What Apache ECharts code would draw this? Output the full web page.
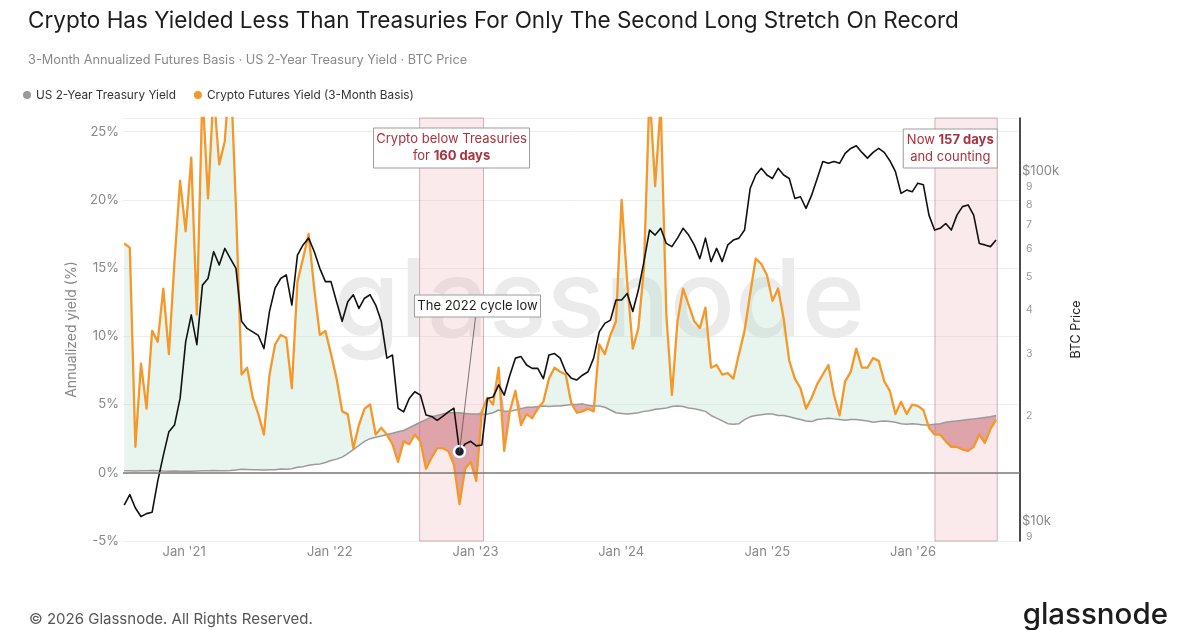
<!DOCTYPE html>
<html>
<head>
<meta charset="utf-8">
<script src="https://cdn.jsdelivr.net/npm/echarts@6/dist/echarts.min.js"></script>
<style>
  html, body { margin: 0; background: #fff; }
  #main { width: 1200px; height: 630px; }
</style>
</head>
<body>
<div id="main"></div>
<script>
// two-week samples, first one early Aug 2020
const startDate = '2020-08-04';
const stepDays = 14;

// US 2-year treasury yield, %
const treasuryYield = [
  0.15, 0.14, 0.13, 0.14, 0.15, 0.16, 0.15, 0.13, 0.12, 0.13, 0.12, 0.12, 0.11, 0.13, 0.14,
  0.15, 0.16, 0.15, 0.15, 0.16, 0.20, 0.25, 0.24, 0.22, 0.22, 0.21, 0.22, 0.23, 0.27,
  0.25, 0.3, 0.4, 0.45, 0.55, 0.6, 0.65, 0.75, 0.9, 1.0, 1.15,
  1.4, 1.7, 2.0, 2.3, 2.5, 2.6, 2.7, 2.8, 2.9,
  3.0, 3.1, 3.3, 3.5, 3.7, 3.9, 4.1, 4.2, 4.3, 4.4,
  4.4, 4.4, 4.35, 4.3, 4.3, 4.25, 4.3, 4.4, 4.6, 4.5,
  4.5, 4.6, 4.7, 4.8, 4.8, 4.85, 4.9, 4.85, 4.9, 4.9,
  4.95, 5.0, 5.0, 5.05, 4.95, 4.9, 4.9, 4.8, 4.6, 4.4,
  4.35, 4.3, 4.35, 4.4, 4.5, 4.55, 4.65, 4.7, 4.75, 4.85,
  4.9, 4.85, 4.75, 4.7, 4.6, 4.5, 4.2, 4.0, 3.8, 3.6,
  3.55, 3.6, 3.9, 4.1, 4.2, 4.25, 4.3, 4.3, 4.2, 4.2,
  4.1, 4.0, 3.9, 3.8, 3.75, 3.9, 3.95, 4.0, 3.95, 3.9,
  3.85, 3.9, 3.9, 3.85, 3.8, 3.7, 3.75, 3.8, 3.75, 3.7,
  3.6, 3.55, 3.6, 3.55, 3.5, 3.5, 3.55, 3.6, 3.7, 3.75,
  3.8, 3.85, 3.9, 3.95, 4.0, 4.05, 4.1, 4.2
];

// 3-month annualized futures basis, %
const cryptoYield = [
  16.8, 16.5, 1.9, 8.0, 4.7, 10.4, 9.6, 13.5, 8.7, 15.5,
  21.4, 17.7, 23.1, 11.6, 28, 20.1, 28, 22.6, 24.3, 30,
  19.4, 7.2, 7.7, 5.5, 4.3, 2.8, 7.2, 9.4, 10.1, 9.9,
  6.2, 14.0, 15.7, 17.5, 13.5, 10.1, 10.4, 8.7, 6.9, 4.5,
  4.3, 1.8, 3.5, 4.7, 5.0, 2.8, 3.3, 2.8, 2.1, 0.8,
  2.3, 2.1, 2.8, 2.3, 0.3, 1.1, 1.8, 1.8, 1.6, 0.6,
  -2.3, 0.3, 0.8, -0.6, 4.5, 5.5, 5.0, 7.7, 1.6, 4.5,
  6.0, 3.5, 4.3, 4.0, 4.7, 5.2, 6.9, 7.7, 7.4,
  7.2, 5.1, 4.4, 4.5, 4.7, 4.5, 9.4, 8.7, 10.1, 11.1,
  20.0, 14.0, 9.1, 10.6, 15.0, 28, 21, 27, 11.6, 5.7,
  11.1, 13.5, 12.3, 11.1, 10.6, 12.1, 7.7, 7.9, 7.2, 7.3,
  6.9, 8.7, 10.4, 13.1, 15.7, 15.3, 14.5, 12.6, 13.5, 11.3,
  8.2, 6.9, 6.2, 4.7, 5.5, 6.5, 7.2, 7.9, 5.7, 4.2,
  6.7, 7.4, 9.1, 7.7, 7.7, 8.4, 8.2, 6.7, 6.0, 4.3,
  5.2, 4.3, 5.0, 4.9, 4.6, 3.3, 2.8, 2.8, 2.3, 1.9,
  1.9, 1.7, 1.6, 1.9, 2.8, 2.2, 3.2, 3.9
];

// BTC price, $k
const btcPrice = [
  11.1, 11.9, 10.9, 10.3, 10.5, 10.6, 13.0, 15.4, 18.0, 18.8,
  22.4, 32.5, 38.8, 31.9, 47.2, 49.3, 58.9, 53.9, 60.1, 56.2,
  52.7, 37.2, 35.5, 34.7, 33.9, 31.1, 39.7, 46.3, 49.3, 50.5,
  41.4, 57.5, 61.5, 64.3, 58.9, 52.7, 48.3, 48.3, 42.3, 37.2,
  42.3, 44.3, 40.5, 43.3, 44.3, 41.4, 37.2, 29.2, 29.8, 21.0,
  20.5, 22.4, 23.4, 22.9, 20.1, 19.9, 19.4, 19.9, 20.5, 21.0,
  15.8, 16.6, 16.9, 16.4, 16.5, 22.4, 22.6, 24.5, 22.9, 26.1,
  29.2, 29.5, 27.9, 27.3, 27.3, 25.5, 29.8, 30.1, 29.2,
  26.7, 25.6, 25.3, 26.1, 26.7, 29.2, 34.7, 36.7, 37.5, 42.8,
  42.8, 44.7, 39.7, 45.7, 55.1, 67.8, 65.6, 68.6, 62.1, 60.8,
  64.3, 68.6, 65.6, 61.5, 56.2, 64.3, 55.1, 60.1, 55.1, 61.5,
  63.5, 64.3, 67.8, 89.1, 97.4, 101.8, 97.4, 95.2, 101.8, 97.4,
  95.2, 83.5, 84.4, 78.2, 85.3, 95.2, 106.4, 105.2, 106.4, 105.2,
  112.3, 116.0, 118.0, 113.0, 108.8, 113.0, 116.0, 113.0, 107.0, 99.6,
  86.3, 88.2, 87.2, 92.3, 91.3, 74.8, 67.8, 68.6, 70.8, 67.8,
  74.8, 79.1, 80.0, 74.8, 62.1, 61.5, 60.8, 63.5
];

const btcTicks = [9, 10, 20, 30, 40, 50, 60, 70, 80, 90, 100];
const belowStretches = [['2022-08-14', '2023-01-21'], ['2026-02-25', '2026-07-31']];
const cycleLowIdx = 60;

const DAY = 86400000;
const t0 = Date.parse(startDate);
const dates = btcPrice.map((_, i) => t0 + i * stepDays * DAY);

const pair = arr => arr.map((v, i) => [dates[i], v]);
const bandBase = cryptoYield.map((c, i) => Math.min(c, treasuryYield[i]));
const bandAbove = cryptoYield.map((c, i) => Math.max(c - treasuryYield[i], 0));
const bandBelow = cryptoYield.map((c, i) => Math.max(treasuryYield[i] - c, 0));

const FONT = 'Inter';
const chart = echarts.init(document.getElementById('main'));

const option = {
  animation: false,
  backgroundColor: '#fff',
  textStyle: { fontFamily: FONT },
  title: [
    { text: 'Crypto Has Yielded Less Than Treasuries For Only The Second Long Stretch On Record',
      left: 23, top: 5, textStyle: { fontFamily: FONT, fontSize: 22.5, fontWeight: 'normal', color: '#1d1d1d' } },
    { text: '3-Month Annualized Futures Basis \u00b7 US 2-Year Treasury Yield \u00b7 BTC Price',
      left: 23, top: 49, textStyle: { fontFamily: FONT, fontSize: 12.75, fontWeight: 'normal', color: '#8a8a8a' } },
    { text: '\u00a9 2026 Glassnode. All Rights Reserved.',
      left: 24, top: 607, textStyle: { fontFamily: FONT, fontSize: 15, fontWeight: 'normal', color: '#555' } }
  ],
  legend: {
    left: 18, top: 84, icon: 'circle', itemWidth: 8, itemHeight: 8, itemGap: 18,
    data: ['US 2-Year Treasury Yield', 'Crypto Futures Yield (3-Month Basis)'],
    textStyle: { fontFamily: FONT, fontSize: 11.8, color: '#333' }
  },
  grid: { left: 123, right: 180, top: 118, bottom: 89 },
  xAxis: {
    type: 'time',
    min: Date.parse('2020-08-01'),
    max: Date.parse('2026-09-26'),
    minInterval: 365 * DAY,
    axisLine: { show: false },
    axisTick: { show: false },
    splitLine: { show: false },
    axisLabel: {
      formatter: v => {
        const d = new Date(v);
        return (d.getMonth() === 0 && d.getDate() === 1) ? "Jan '" + String(d.getFullYear()).slice(2) : '';
      },
      showMinLabel: false, showMaxLabel: false,
      color: '#888', fontSize: 13, margin: 5, fontFamily: FONT
    }
  },
  yAxis: [
    {
      type: 'value', min: -5, max: 26, interval: 5,
      name: 'Annualized yield (%)', nameLocation: 'middle', nameRotate: 90, nameGap: 44,
      nameTextStyle: { color: '#888', fontSize: 14, fontFamily: FONT },
      axisLine: { show: false }, axisTick: { show: false },
      axisLabel: {
        color: '#888', fontSize: 13, margin: 4, fontFamily: FONT,
        formatter: v => (v % 5 === 0 ? v + '%' : '')
      },
      splitLine: { lineStyle: { color: '#eeeeee', width: 1 } }
    },
    {
      type: 'log', logBase: 10, min: 8.77, max: 141.7, position: 'right',
      name: 'BTC Price', nameLocation: 'middle', nameRotate: 90, nameGap: 40,
      nameTextStyle: { color: '#222', fontSize: 12.5, fontFamily: FONT },
      axisLine: { show: true, lineStyle: { color: '#111', width: 1.5 } },
      axisTick: { show: false },
      splitLine: { show: false },
      axisLabel: {
        customValues: btcTicks,
        margin: 2,
        formatter: v => {
          const r = Math.round(v);
          if (r === 10) return '{big|$10k}';
          if (r === 100) return '{big|$100k}';
          return '{small|' + (r < 10 ? r : r / 10) + '}';
        },
        rich: {
          big: { color: '#888', fontSize: 13, fontFamily: FONT },
          small: { color: '#999', fontSize: 10.5, fontFamily: FONT, padding: [0, 0, 0, 4] }
        }
      }
    }
  ],
  series: [
    {
      name: 'band-base', type: 'line', stack: 'band', stackStrategy: 'all',
      data: pair(bandBase), symbol: 'none', silent: true,
      lineStyle: { width: 0, opacity: 0 },
      markArea: {
        silent: true,
        itemStyle: { color: 'rgba(236, 172, 180, 0.25)', borderColor: 'rgba(185, 130, 138, 0.6)', borderWidth: 1 },
        data: belowStretches.map(s => [{ xAxis: Date.parse(s[0]), yAxis: 26 }, { xAxis: Date.parse(s[1]), yAxis: -5 }])
      }
    },
    {
      name: 'band-above', type: 'line', stack: 'band', stackStrategy: 'all',
      data: pair(bandAbove), symbol: 'none', silent: true,
      lineStyle: { width: 0, opacity: 0 },
      areaStyle: { color: 'rgba(176, 220, 196, 0.42)' }
    },
    {
      name: 'band-below', type: 'line', stack: 'band', stackStrategy: 'all',
      data: pair(bandBelow), symbol: 'none', silent: true,
      lineStyle: { width: 0, opacity: 0 },
      areaStyle: { color: 'rgba(196, 92, 104, 0.72)' }
    },
    {
      name: 'US 2-Year Treasury Yield', type: 'line', data: pair(treasuryYield),
      symbol: 'none', color: '#9a9a9a', lineStyle: { width: 1.5, color: '#9a9a9a' },
      markLine: {
        silent: true, symbol: 'none', label: { show: false },
        lineStyle: { color: '#7a7a7a', width: 1.5, type: 'solid' },
        data: [{ yAxis: 0 }]
      }
    },
    {
      name: 'Crypto Futures Yield (3-Month Basis)', type: 'line', data: pair(cryptoYield),
      symbol: 'none', color: '#f4982a', lineStyle: { width: 2.3, color: '#f4982a', join: 'round' }
    },
    {
      name: 'BTC Price', type: 'line', yAxisIndex: 1, data: pair(btcPrice),
      symbol: 'none', color: '#111', lineStyle: { width: 1.6, color: '#111', join: 'round' }, z: 4,
      markPoint: {
        silent: true, symbol: 'circle', symbolSize: 11, label: { show: false },
        itemStyle: { color: '#1b2133', borderColor: '#fff', borderWidth: 2.5 },
        data: [{ coord: [dates[cycleLowIdx], btcPrice[cycleLowIdx]] }]
      }
    }
  ]
};

chart.setOption(option);

// annotations placed from the axes
const pxX = d => chart.convertToPixel({ xAxisIndex: 0 }, Date.parse(d));
const b1l = pxX(belowStretches[0][0]), b1r = pxX(belowStretches[0][1]);
const b2r = pxX(belowStretches[1][1]);
const low = chart.convertToPixel({ seriesIndex: 5 }, [dates[cycleLowIdx], btcPrice[cycleLowIdx]]);

const noteColor = '#a8323e';
const noteRich = {
  n: { fontFamily: FONT, fontSize: 13, fill: noteColor, lineHeight: 17 },
  b: { fontFamily: FONT, fontSize: 13, fill: noteColor, fontWeight: 'bold', lineHeight: 17 }
};
const box = (x, y, w, h) => ({
  type: 'rect', z: 100, shape: { x: x, y: y, width: w, height: h },
  style: { fill: '#fff', stroke: '#9c9c9c', lineWidth: 1 }
});

chart.setOption({
  graphic: [
    {
      type: 'text', z: 0, left: 333, top: 251, silent: true,
      style: { text: 'glassnode', fontFamily: FONT, fontSize: 108, fontWeight: 500, fill: '#ebebeb' }
    },
    {
      type: 'text', z: 100, right: 32, top: 600,
      style: { text: 'glassnode', fontFamily: FONT, fontSize: 29.5, fontWeight: 500, fill: '#1c1c1c' }
    },
    box((b1l + b1r) / 2 - 78, 128, 156, 40),
    {
      type: 'text', z: 101,
      style: {
        x: (b1l + b1r) / 2, y: 148, align: 'center', verticalAlign: 'middle', fill: noteColor,
        text: '{n|Crypto below Treasuries}\n{n|for }{b|160 days}', rich: noteRich
      }
    },
    box(b2r - 94, 129, 94, 39),
    {
      type: 'text', z: 101,
      style: {
        x: b2r - 47, y: 148.5, align: 'center', verticalAlign: 'middle', fill: noteColor,
        text: '{n|Now }{b|157 days}\n{n|and counting}', rich: noteRich
      }
    },
    {
      type: 'line', z: 99,
      shape: { x1: low[0] + 16, y1: 317, x2: low[0], y2: low[1] },
      style: { stroke: '#555', lineWidth: 0.8 }
    },
    box(low[0] - 45, 295, 126, 22),
    {
      type: 'text', z: 101,
      style: {
        x: low[0] + 18, y: 306, align: 'center', verticalAlign: 'middle',
        text: 'The 2022 cycle low', fontFamily: FONT, fontSize: 13, fill: '#1d1d1d'
      }
    }
  ]
});
</script>
</body>
</html>
